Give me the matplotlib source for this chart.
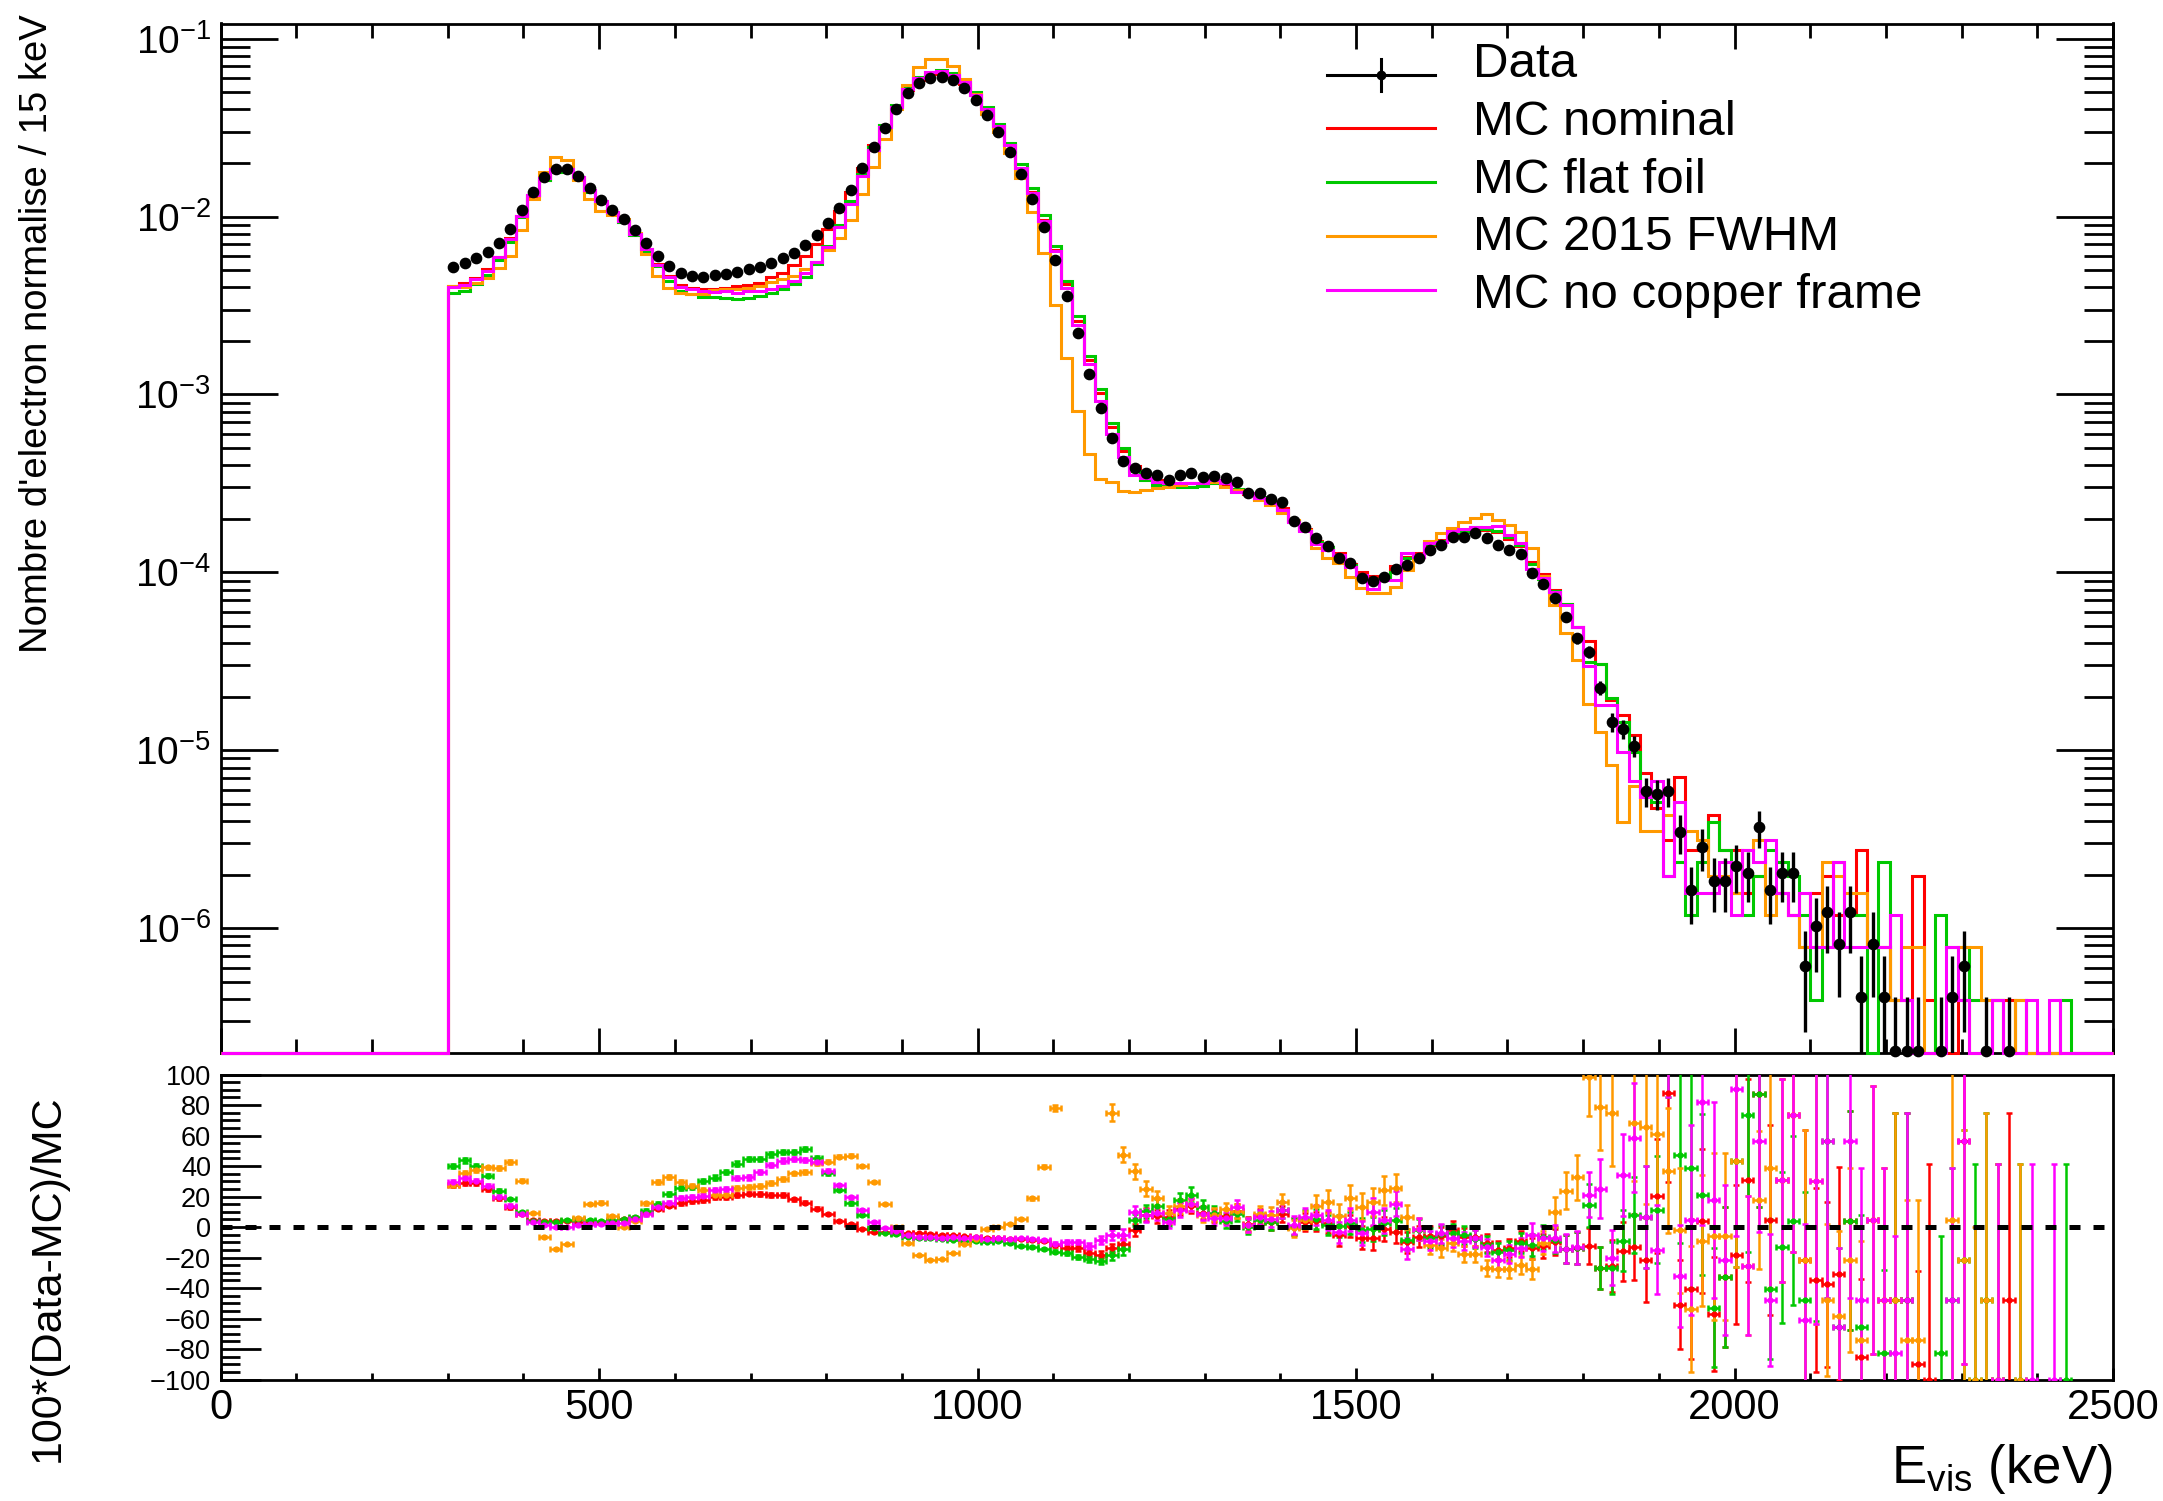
import numpy as np
import matplotlib
matplotlib.use('Agg')
import matplotlib.pyplot as plt
from matplotlib.lines import Line2D
from matplotlib.ticker import (MultipleLocator, LogLocator, FixedLocator,
                               FuncFormatter, NullFormatter)

plt.rcParams['font.family'] = ['Liberation Sans', 'DejaVu Sans']
plt.rcParams['mathtext.fontset'] = 'custom'
plt.rcParams['mathtext.rm'] = 'Liberation Sans'
plt.rcParams['mathtext.it'] = 'Liberation Sans:italic'
plt.rcParams['mathtext.bf'] = 'Liberation Sans:bold'

W, H = 2163, 1501
YMIN, YMAX = 2.0e-7, 0.1216
U_DATA = 2.05e-7   # weight of one data event (lowest level in the plot)
U_MC = 3.93e-7     # weight of one MC event

# 15 keV bins from 300 keV up to the end of the axis
data = [
    5.23e-3, 5.46e-3, 5.83e-3, 6.30e-3, 7.08e-3, 8.55e-3, 1.09e-2, 1.37e-2, 1.66e-2, 1.85e-2,
    1.85e-2, 1.70e-2, 1.44e-2, 1.24e-2, 1.09e-2, 9.73e-3, 8.40e-3, 7.13e-3, 6.03e-3, 5.27e-3,
    4.80e-3, 4.65e-3, 4.59e-3, 4.69e-3, 4.75e-3, 4.90e-3, 5.05e-3, 5.18e-3, 5.51e-3, 5.83e-3,
    6.27e-3, 6.92e-3, 7.88e-3, 9.24e-3, 1.112e-2, 1.41e-2, 1.866e-2, 2.45e-2, 3.16e-2, 4.02e-2,
    4.93e-2, 5.61e-2, 6.03e-2, 6.11e-2, 5.85e-2, 5.25e-2, 4.52e-2, 3.72e-2, 3.00e-2, 2.32e-2,
    1.73e-2, 1.255e-2, 8.68e-3, 5.70e-3, 3.59e-3, 2.226e-3, 1.304e-3, 8.36e-4, 5.67e-4, 4.25e-4,
    3.88e-4, 3.64e-4, 3.53e-4, 3.31e-4, 3.53e-4, 3.64e-4, 3.45e-4, 3.50e-4, 3.38e-4, 3.21e-4,
    2.81e-4, 2.78e-4, 2.58e-4, 2.50e-4, 1.956e-4, 1.81e-4, 1.556e-4, 1.40e-4, 1.21e-4, 1.13e-4,
    9.3e-5, 8.89e-5, 9.47e-5, 1.046e-4, 1.10e-4, 1.20e-4, 1.337e-4, 1.427e-4, 1.59e-4, 1.59e-4,
    1.66e-4, 1.556e-4, 1.427e-4, 1.337e-4, 1.27e-4, 9.89e-5, 8.58e-5, 7.22e-5, 5.64e-5, 4.27e-5,
    3.59e-5, 2.25e-5, 1.44e-5, 1.32e-5, 1.06e-5, 5.87e-6, 5.69e-6, 5.91e-6, 3.47e-6, 1.64e-6,
    2.86e-6, 1.85e-6, 1.85e-6, 2.25e-6, 2.05e-6, 3.69e-6, 1.64e-6, 2.05e-6, 2.05e-6, 6.15e-7,
    1.025e-6, 1.23e-6, 8.2e-7, 1.23e-6, 4.1e-7, 8.2e-7, 4.1e-7, 2.05e-7, 2.05e-7, 2.05e-7,
    0, 2.05e-7, 4.1e-7, 6.15e-7, 0, 2.05e-7, 0, 2.05e-7, 0, 0,
    0, 0, 0, 0, 0, 0, 0,
]

mc_nominal = [
    4.09e-3, 4.23e-3, 4.52e-3, 5.04e-3, 5.95e-3, 7.57e-3, 1.005e-2, 1.31e-2, 1.596e-2, 1.779e-2,
    1.779e-2, 1.643e-2, 1.398e-2, 1.198e-2, 1.048e-2, 9.27e-3, 7.92e-3, 6.54e-3, 5.38e-3, 4.62e-3,
    4.14e-3, 3.97e-3, 3.89e-3, 3.91e-3, 3.96e-3, 4.05e-3, 4.14e-3, 4.25e-3, 4.55e-3, 4.82e-3,
    5.31e-3, 5.97e-3, 7.04e-3, 8.52e-3, 1.069e-2, 1.382e-2, 1.885e-2, 2.54e-2, 3.27e-2, 4.17e-2,
    5.14e-2, 5.84e-2, 6.31e-2, 6.43e-2, 6.19e-2, 5.59e-2, 4.83e-2, 4.00e-2, 3.24e-2, 2.52e-2,
    1.88e-2, 1.372e-2, 9.54e-3, 6.48e-3, 4.15e-3, 2.59e-3, 1.571e-3, 1.02e-3, 6.59e-4, 4.78e-4,
    3.96e-4, 3.37e-4, 3.30e-4, 3.10e-4, 3.15e-4, 3.20e-4, 3.15e-4, 3.25e-4, 3.15e-4, 2.90e-4,
    2.75e-4, 2.60e-4, 2.50e-4, 2.30e-4, 1.95e-4, 1.75e-4, 1.50e-4, 1.36e-4, 1.28e-4, 1.12e-4,
    1.00e-4, 9.6e-5, 9.6e-5, 1.08e-4, 1.22e-4, 1.28e-4, 1.42e-4, 1.52e-4, 1.62e-4, 1.70e-4,
    1.78e-4, 1.74e-4, 1.68e-4, 1.55e-4, 1.40e-4, 1.15e-4, 9.8e-5, 8.0e-5, 6.6e-5, 4.95e-5,
    4.09e-5, 3.07e-5, 1.93e-5, 1.57e-5, 1.22e-5, 7.47e-6, 4.72e-6, 3.14e-6, 7.07e-6, 2.75e-6,
    2.75e-6, 4.32e-6, 2.75e-6, 2.75e-6, 1.57e-6, 1.97e-6, 1.57e-6, 1.57e-6, 1.18e-6, 7.86e-7,
    1.57e-6, 1.97e-6, 1.18e-6, 1.18e-6, 2.75e-6, 7.86e-7, 7.86e-7, 3.93e-7, 3.93e-7, 1.97e-6,
    3.93e-7, 0, 0, 3.93e-7, 0, 0, 3.93e-7, 3.93e-7, 0, 0,
    0, 0, 0, 0, 0, 0, 0,
]

mc_flat_foil = [
    3.73e-3, 3.80e-3, 4.16e-3, 4.71e-3, 5.72e-3, 7.22e-3, 9.95e-3, 1.316e-2, 1.61e-2, 1.787e-2,
    1.769e-2, 1.616e-2, 1.377e-2, 1.191e-2, 1.042e-2, 9.27e-3, 7.90e-3, 6.44e-3, 5.24e-3, 4.33e-3,
    3.83e-3, 3.68e-3, 3.52e-3, 3.54e-3, 3.49e-3, 3.46e-3, 3.49e-3, 3.58e-3, 3.73e-3, 3.91e-3,
    4.20e-3, 4.58e-3, 5.42e-3, 6.83e-3, 8.95e-3, 1.221e-2, 1.729e-2, 2.47e-2, 3.28e-2, 4.22e-2,
    5.26e-2, 6.06e-2, 6.51e-2, 6.63e-2, 6.39e-2, 5.78e-2, 4.99e-2, 4.11e-2, 3.31e-2, 2.59e-2,
    1.977e-2, 1.449e-2, 1.015e-2, 6.80e-3, 4.34e-3, 2.77e-3, 1.65e-3, 1.073e-3, 6.95e-4, 4.98e-4,
    3.71e-4, 3.30e-4, 3.10e-4, 3.15e-4, 3.00e-4, 3.00e-4, 3.05e-4, 3.20e-4, 3.25e-4, 2.95e-4,
    2.80e-4, 2.65e-4, 2.50e-4, 2.25e-4, 1.95e-4, 1.72e-4, 1.48e-4, 1.38e-4, 1.20e-4, 1.10e-4,
    9.5e-5, 9.0e-5, 9.2e-5, 1.00e-4, 1.20e-4, 1.22e-4, 1.44e-4, 1.50e-4, 1.66e-4, 1.68e-4,
    1.80e-4, 1.76e-4, 1.70e-4, 1.58e-4, 1.42e-4, 1.12e-4, 9.2e-5, 7.9e-5, 6.6e-5, 4.95e-5,
    3.14e-5, 3.07e-5, 1.97e-5, 1.45e-5, 9.83e-6, 5.50e-6, 5.11e-6, 1.97e-6, 2.36e-6, 1.18e-6,
    2.36e-6, 3.93e-6, 2.75e-6, 1.57e-6, 1.18e-6, 1.97e-6, 2.75e-6, 2.36e-6, 1.97e-6, 1.18e-6,
    3.93e-7, 7.86e-7, 2.36e-6, 1.18e-6, 1.18e-6, 0, 2.36e-6, 3.93e-7, 3.93e-7, 0,
    0, 1.18e-6, 7.86e-7, 7.86e-7, 3.93e-7, 3.93e-7, 3.93e-7, 0, 3.93e-7, 0,
    0, 0, 3.93e-7, 0, 0, 0, 0,
]

mc_fwhm_2015 = [
    4.09e-3, 4.04e-3, 4.24e-3, 4.53e-3, 5.11e-3, 5.99e-3, 8.36e-3, 1.257e-2, 1.772e-2, 2.16e-2,
    2.088e-2, 1.604e-2, 1.252e-2, 1.069e-2, 1.019e-2, 9.73e-3, 8.08e-3, 6.17e-3, 4.66e-3, 3.96e-3,
    3.70e-3, 3.66e-3, 3.69e-3, 3.88e-3, 3.93e-3, 3.90e-3, 3.99e-3, 4.09e-3, 4.27e-3, 4.44e-3,
    4.64e-3, 5.09e-3, 5.56e-3, 6.47e-3, 7.61e-3, 9.61e-3, 1.331e-2, 1.895e-2, 2.745e-2, 4.02e-2,
    5.51e-2, 6.89e-2, 7.67e-2, 7.73e-2, 7.05e-2, 5.90e-2, 4.91e-2, 3.77e-2, 2.99e-2, 2.27e-2,
    1.644e-2, 1.056e-2, 6.22e-3, 3.20e-3, 1.60e-3, 8.08e-4, 4.61e-4, 3.34e-4, 3.24e-4, 2.88e-4,
    2.84e-4, 2.91e-4, 2.97e-4, 3.03e-4, 3.10e-4, 3.17e-4, 3.20e-4, 3.24e-4, 3.03e-4, 2.91e-4,
    2.78e-4, 2.555e-4, 2.39e-4, 2.15e-4, 1.97e-4, 1.73e-4, 1.366e-4, 1.20e-4, 1.125e-4, 9.47e-5,
    8.2e-5, 7.63e-5, 7.63e-5, 8.32e-5, 1.033e-4, 1.216e-4, 1.51e-4, 1.66e-4, 1.77e-4, 1.93e-4,
    2.015e-4, 2.12e-4, 1.97e-4, 1.85e-4, 1.696e-4, 1.366e-4, 9.55e-5, 6.57e-5, 4.55e-5, 3.22e-5,
    1.81e-5, 1.26e-5, 8.25e-6, 3.93e-6, 6.29e-6, 3.54e-6, 3.54e-6, 4.32e-6, 3.54e-6, 3.54e-6,
    3.14e-6, 1.97e-6, 1.97e-6, 1.57e-6, 2.75e-6, 3.14e-6, 1.18e-6, 1.57e-6, 1.18e-6, 7.86e-7,
    7.86e-7, 2.36e-6, 1.97e-6, 1.57e-6, 1.57e-6, 7.86e-7, 7.86e-7, 3.93e-7, 7.86e-7, 7.86e-7,
    0, 0, 3.93e-7, 7.86e-7, 7.86e-7, 3.93e-7, 3.93e-7, 0, 3.93e-7, 0,
    0, 0, 0, 0, 0, 0, 0,
]

mc_no_copper = [
    4.04e-3, 4.14e-3, 4.47e-3, 4.96e-3, 5.90e-3, 7.50e-3, 1.005e-2, 1.324e-2, 1.639e-2, 1.854e-2,
    1.854e-2, 1.678e-2, 1.412e-2, 1.216e-2, 1.064e-2, 9.47e-3, 8.00e-3, 6.57e-3, 5.32e-3, 4.55e-3,
    4.04e-3, 3.89e-3, 3.82e-3, 3.77e-3, 3.80e-3, 3.70e-3, 3.81e-3, 3.80e-3, 3.92e-3, 4.06e-3,
    4.34e-3, 4.81e-3, 5.52e-3, 6.75e-3, 8.72e-3, 1.181e-2, 1.680e-2, 2.37e-2, 3.17e-2, 4.14e-2,
    5.20e-2, 5.99e-2, 6.47e-2, 6.57e-2, 6.28e-2, 5.67e-2, 4.85e-2, 4.04e-2, 3.24e-2, 2.51e-2,
    1.87e-2, 1.364e-2, 9.49e-3, 6.39e-3, 3.99e-3, 2.47e-3, 1.49e-3, 9.14e-4, 5.98e-4, 4.48e-4,
    3.53e-4, 3.38e-4, 3.24e-4, 3.20e-4, 3.17e-4, 3.17e-4, 3.17e-4, 3.31e-4, 3.20e-4, 2.84e-4,
    2.78e-4, 2.61e-4, 2.45e-4, 2.245e-4, 1.93e-4, 1.70e-4, 1.445e-4, 1.337e-4, 1.253e-4, 1.078e-4,
    9.68e-5, 8.08e-5, 9.07e-5, 9.07e-5, 1.281e-4, 1.216e-4, 1.47e-4, 1.49e-4, 1.71e-4, 1.748e-4,
    1.794e-4, 1.794e-4, 1.825e-4, 1.624e-4, 1.47e-4, 1.041e-4, 9.27e-5, 7.80e-5, 6.57e-5, 4.92e-5,
    2.96e-5, 1.80e-5, 1.80e-5, 9.84e-6, 6.68e-6, 5.50e-6, 6.68e-6, 1.97e-6, 5.11e-6, 1.57e-6,
    1.57e-6, 1.57e-6, 2.36e-6, 1.18e-6, 2.75e-6, 2.36e-6, 3.14e-6, 1.57e-6, 1.18e-6, 1.57e-6,
    7.86e-7, 7.86e-7, 2.36e-6, 7.86e-7, 7.86e-7, 7.86e-7, 7.86e-7, 1.18e-6, 3.93e-7, 0,
    0, 0, 7.86e-7, 3.93e-7, 0, 0, 3.93e-7, 0, 0, 3.93e-7,
    0, 3.93e-7, 0, 0, 0, 0, 0,
]

series = [
    ('MC nominal', mc_nominal, '#ff0000'),
    ('MC flat foil', mc_flat_foil, '#00c800'),
    ('MC 2015 FWHM', mc_fwhm_2015, '#ff9900'),
    ('MC no copper frame', mc_no_copper, '#ff00ff'),
]

# bin edges: 0..2490 every 15 keV, last bin cut at the axis end
edges = np.minimum(np.arange(0, 2505 + 1, 15.0), 2500.0)
n_low = 20  # empty bins below 300 keV
centers = 0.5 * (edges[n_low:-1] + edges[n_low + 1:])

d = np.array(data)
d_err = np.sqrt(d * U_DATA)

AX_L, AX_R = 220.7, 2113.0
TOP1, BOT1 = 23.5, 1052.6
TOP2, BOT2 = 1074.6, 1379.5

fig = plt.figure(figsize=(W / 100, H / 100), dpi=100)
ax1 = fig.add_axes([AX_L / W, 1 - BOT1 / H, (AX_R - AX_L) / W, (BOT1 - TOP1) / H])
ax2 = fig.add_axes([AX_L / W, 1 - BOT2 / H, (AX_R - AX_L) / W, (BOT2 - TOP2) / H])

# --- top pad: spectra
for label, vals, col in series:
    full = np.concatenate([np.zeros(n_low), np.array(vals)])
    ax1.stairs(np.clip(full, YMIN, None), edges, color=col, lw=2.2,
               baseline=None, clip_on=False, zorder=3)

has = d > 0
eb = ax1.errorbar(centers[has], d[has], yerr=d_err[has], fmt='o', color='k',
                  ms=7.4, elinewidth=2.4, capsize=0, zorder=5)
eb[0].set_clip_on(False)

ax1.set_yscale('log')
ax1.set_xlim(0, 2500)
ax1.set_ylim(YMIN, YMAX)
ax1.xaxis.set_major_locator(MultipleLocator(500))
ax1.xaxis.set_minor_locator(MultipleLocator(100))
ax1.yaxis.set_major_locator(FixedLocator(10.0 ** np.arange(-6, 0)))
ax1.yaxis.set_minor_locator(LogLocator(base=10, subs=np.arange(2, 10), numticks=20))
ax1.yaxis.set_major_formatter(FuncFormatter(
    lambda v, p: r'$\mathregular{10^{%d}}$' % int(round(np.log10(v)))))
ax1.yaxis.set_minor_formatter(NullFormatter())
ax1.tick_params(which='both', direction='in', top=True, right=True,
                labelbottom=False, width=2)
ax1.tick_params(axis='y', which='major', length=41, labelsize=28, pad=7)
ax1.tick_params(axis='y', which='minor', length=21)
ax1.tick_params(axis='x', which='major', length=18)
ax1.tick_params(axis='x', which='minor', length=10)

# --- bottom pad: 100*(Data-MC)/MC
for label, vals, col in series:
    m = np.array(vals)
    ok = m > 0
    diff = d - m
    var_diff = d * U_DATA + m * U_MC
    r = np.full_like(m, np.nan)
    er = np.full_like(m, np.nan)
    r[ok] = 100 * diff[ok] / m[ok]
    er[ok] = 100 * np.sqrt(var_diff[ok] * m[ok] ** 2 + m[ok] * U_MC * diff[ok] ** 2) / m[ok] ** 2
    ax2.errorbar(centers[ok], r[ok], xerr=7.5, yerr=er[ok], fmt='o', ms=3.5,
                 color=col, elinewidth=1.8, capsize=2.2, capthick=1.8, zorder=3)

ax2.plot([0, 2500], [0, 0], color='k', lw=3.6, dashes=(2.2, 2.6), zorder=6)

ax2.set_xlim(0, 2500)
ax2.set_ylim(-100, 100)
ax2.xaxis.set_major_locator(MultipleLocator(500))
ax2.xaxis.set_minor_locator(MultipleLocator(100))
ax2.yaxis.set_major_locator(FixedLocator(np.arange(-100, 101, 20)))
ax2.yaxis.set_minor_locator(MultipleLocator(5))
ax2.tick_params(which='both', direction='in', top=False, right=False, width=2)
ax2.tick_params(axis='y', which='major', length=29, labelsize=19.5, pad=7)
ax2.tick_params(axis='y', which='minor', length=14)
ax2.tick_params(axis='x', which='major', length=9, labelsize=30, pad=6)
ax2.tick_params(axis='x', which='minor', length=5)

for ax in (ax1, ax2):
    for s in ax.spines.values():
        s.set_linewidth(2)

# axis titles: end of the text at the top, like ROOT
ax1.set_ylabel("Nombre d'electron normalise / 15 keV", fontsize=27.5,
               ha='right', va='center', rotation_mode='anchor')
ax1.yaxis.set_label_coords((37 - AX_L) / (AX_R - AX_L), (BOT1 - 14) / (BOT1 - TOP1))
ax2.set_ylabel('100*(Data-MC)/MC', fontsize=31,
               ha='right', va='center', rotation_mode='anchor')
ax2.yaxis.set_label_coords((48 - AX_L) / (AX_R - AX_L), (BOT2 - 1094) / (BOT2 - TOP2))
fig.text(AX_R / W, 18 / H, r'$\mathregular{E_{vis}}$ (keV)', ha='right',
         va='baseline', fontsize=38)

# legend (ROOT style, no frame)
line_y = [75, 128, 182, 236, 290]
text_y = [77, 135, 193, 250, 308]
x0, x1, xt = 1327, 1435, 1473
xm = 0.5 * (x0 + x1)
fig.add_artist(Line2D([x0 / W, x1 / W], [1 - line_y[0] / H] * 2, color='k', lw=2.2))
fig.add_artist(Line2D([xm / W] * 2, [1 - (line_y[0] - 16) / H, 1 - (line_y[0] + 16) / H],
                      color='k', lw=2.2))
fig.add_artist(Line2D([xm / W], [1 - line_y[0] / H], marker='o', ms=6, color='k'))
fig.text(xt / W, 1 - text_y[0] / H, 'Data', fontsize=35.5, va='baseline')
for i, (label, vals, col) in enumerate(series, start=1):
    fig.add_artist(Line2D([x0 / W, x1 / W], [1 - line_y[i] / H] * 2, color=col, lw=2.2))
    fig.text(xt / W, 1 - text_y[i] / H, label, fontsize=35.5, va='baseline')

fig.savefig('out.png', dpi=100)
